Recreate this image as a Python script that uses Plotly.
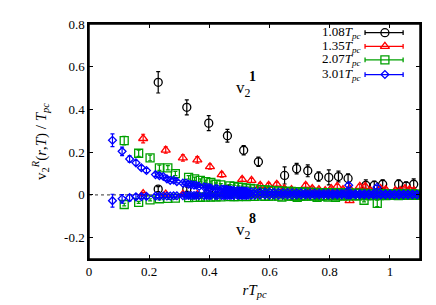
import plotly.graph_objects as go

# ---------------- data ----------------
# 1.08 Tpc (black circles)
x_108 = [0.23, 0.325, 0.398, 0.46, 0.514, 0.563, 0.65, 0.69, 0.727, 0.763, 0.797, 0.829, 0.861, 0.92, 0.948, 0.976, 1.029, 1.054, 1.079]
v1_108 = [0.527, 0.41, 0.336, 0.277, 0.209, 0.155, 0.091, 0.123, 0.113, 0.086, 0.082, 0.086, 0.077, 0.045, 0.045, 0.05, 0.05, 0.041, 0.05]
e1_108 = [0.05, 0.035, 0.035, 0.03, 0.022, 0.022, 0.04, 0.025, 0.028, 0.022, 0.035, 0.025, 0.022, 0.025, 0.02, 0.02, 0.02, 0.02, 0.025]
v8_108 = [0.027, 0.027, 0.012, 0.027, 0.016, 0.008, 0.018, 0.006, 0.004, 0.005, 0.003, 0.004, 0.002, 0.003, 0.002, 0.003, 0.001, 0.002, 0.003]
e8_108 = [0.012, 0.01, 0.008, 0.008, 0.006, 0.006, 0.006, 0.005, 0.005, 0.005, 0.005, 0.005, 0.005, 0.005, 0.005, 0.005, 0.005, 0.005, 0.005]

# 1.35 Tpc (red triangles)
x_135 = [0.18, 0.255, 0.312, 0.36, 0.402, 0.441, 0.509, 0.54, 0.569, 0.597, 0.624, 0.649, 0.673, 0.72, 0.742, 0.764, 0.785, 0.805, 0.825, 0.844, 0.866, 0.9, 0.918, 0.935, 0.969, 0.986, 1.018, 1.034, 1.05, 1.065, 1.08]
v1_135 = [0.264, 0.21, 0.173, 0.164, 0.132, 0.095, 0.073, 0.068, 0.045, 0.045, 0.05, 0.03, 0.025, 0.045, 0.03, 0.025, 0.02, 0.03, 0.04, 0.025, 0.03, 0.04, 0.04, 0.02, 0.03, 0.025, 0.02, 0.02, 0.03, 0.025, 0.02]
e1_135 = [0.02, 0.015, 0.015, 0.015, 0.012, 0.012, 0.01, 0.01, 0.01, 0.01, 0.01, 0.008, 0.008, 0.01, 0.008, 0.008, 0.008, 0.008, 0.01, 0.008, 0.008, 0.01, 0.01, 0.008, 0.008, 0.008, 0.008, 0.008, 0.008, 0.008, 0.008]
v8_135 = [0.006, 0.004, 0.003, 0.002, 0.002, 0.001, 0.001, 0.001, 0.0, 0.001, 0.0, 0.0, 0.001, 0.0, 0.0, 0.001, 0.0, 0.0, 0.0, 0.0, -0.027, 0.0, 0.0, 0.0, 0.0, 0.0, 0.0, 0.0, 0.0, 0.0, 0.0]
e8_135 = [0.006, 0.005, 0.005, 0.005, 0.005, 0.005, 0.005, 0.005, 0.005, 0.005, 0.005, 0.005, 0.005, 0.005, 0.005, 0.005, 0.005, 0.005, 0.005, 0.005, 0.008, 0.005, 0.005, 0.005, 0.005, 0.005, 0.005, 0.005, 0.005, 0.005, 0.005]

# 2.07 Tpc (green squares)
x_207 = [0.117, 0.165, 0.203, 0.234, 0.262, 0.287, 0.331, 0.351, 0.37, 0.388, 0.405, 0.422, 0.438,
         0.468, 0.482, 0.496, 0.51, 0.523, 0.536, 0.549, 0.573, 0.585, 0.597, 0.608, 0.63,
         0.641, 0.662, 0.672, 0.682, 0.692, 0.702, 0.712, 0.721, 0.74, 0.749, 0.758, 0.767, 0.776, 0.785, 0.794,
         0.811, 0.819, 0.827, 0.836, 0.844, 0.852, 0.86, 0.876, 0.883, 0.891, 0.899, 0.914, 0.921, 0.929, 0.936, 0.943,
         0.958, 0.965, 0.972, 0.979, 0.986, 0.993, 1.0, 1.014, 1.021, 1.028, 1.034, 1.041, 1.048, 1.061, 1.067, 1.074, 1.08, 1.087, 1.093]
v1_207 = [0.254, 0.195, 0.173, 0.127, 0.127, 0.1, 0.082, 0.075, 0.068, 0.062, 0.058, 0.05, 0.047,
          0.042, 0.04, 0.036, 0.035, 0.032, 0.03, 0.028, 0.025, 0.024, 0.022, 0.02, 0.019,
          0.018, 0.017, 0.016, 0.015, 0.015, 0.014, 0.013, 0.013, 0.012, 0.012, 0.011, 0.011, 0.01, 0.01, 0.01,
          0.009, 0.01, 0.009, 0.008, 0.009, 0.008, 0.008, 0.007, 0.008, 0.007, 0.007, 0.006, 0.007, 0.006, 0.006, 0.006,
          0.005, 0.006, 0.005, 0.005, 0.005, 0.004, 0.005, 0.004, 0.004, 0.004, 0.003, 0.004, 0.003, 0.003, 0.003, 0.003, 0.002, 0.003, 0.002]
e1_207 = [0.02, 0.015, 0.013, 0.012, 0.01, 0.01, 0.008, 0.008, 0.007, 0.007, 0.007, 0.006, 0.006,
          0.006, 0.006, 0.006, 0.006, 0.006, 0.006, 0.006, 0.005, 0.005, 0.005, 0.005, 0.005,
          0.005, 0.005, 0.005, 0.005, 0.005, 0.005, 0.005, 0.005, 0.005, 0.005, 0.005, 0.005, 0.005, 0.005, 0.005,
          0.005, 0.005, 0.005, 0.005, 0.005, 0.005, 0.005, 0.005, 0.005, 0.005, 0.005, 0.005, 0.005, 0.005, 0.005, 0.005,
          0.005, 0.005, 0.005, 0.005, 0.005, 0.005, 0.005, 0.005, 0.005, 0.005, 0.005, 0.005, 0.005, 0.005, 0.005, 0.005, 0.005, 0.005, 0.005]
v8_207 = [-0.045, -0.035, -0.023, -0.018, -0.016, -0.015, -0.013, -0.012, -0.011, -0.01, -0.01, -0.009, -0.009,
          -0.008, -0.008, -0.008, -0.007, -0.008, -0.007, -0.007, -0.006, -0.007, -0.006, -0.006, -0.006,
          -0.01, -0.005, -0.006, -0.005, -0.012, -0.005, -0.006, -0.005, -0.005, -0.004, -0.012, -0.005, -0.004, -0.004, -0.01,
          -0.004, -0.012, -0.004, -0.003, -0.004, -0.003, -0.004, -0.003, -0.003, -0.004, -0.003, -0.025, -0.003, -0.003, -0.002, -0.003,
          -0.04, -0.003, -0.002, -0.002, -0.003, -0.002, -0.002, -0.002, -0.002, -0.003, -0.002, -0.002, -0.002, -0.002, -0.001, -0.002, -0.002, -0.001, -0.002]
e8_207 = [0.006, 0.005, 0.005, 0.005, 0.005, 0.005, 0.005, 0.005, 0.005, 0.005, 0.005, 0.005, 0.005,
          0.005, 0.005, 0.005, 0.005, 0.005, 0.005, 0.005, 0.005, 0.005, 0.005, 0.005, 0.005,
          0.005, 0.005, 0.005, 0.005, 0.005, 0.005, 0.005, 0.005, 0.005, 0.005, 0.005, 0.005, 0.005, 0.005, 0.005,
          0.005, 0.005, 0.005, 0.005, 0.005, 0.005, 0.005, 0.005, 0.005, 0.005, 0.005, 0.008, 0.005, 0.005, 0.005, 0.005,
          0.015, 0.005, 0.005, 0.005, 0.005, 0.005, 0.005, 0.005, 0.005, 0.005, 0.005, 0.005, 0.005, 0.005, 0.005, 0.005, 0.005, 0.005, 0.005]

# 3.01 Tpc (blue diamonds)
x_301 = [0.078, 0.11, 0.135, 0.156, 0.174, 0.191, 0.221, 0.234, 0.247, 0.259,
         0.27, 0.281, 0.292, 0.312, 0.322, 0.331, 0.34, 0.349, 0.357, 0.366,
         0.382, 0.39, 0.398, 0.405, 0.42, 0.427, 0.441, 0.448, 0.455, 0.461,
         0.468, 0.474, 0.481, 0.493, 0.5, 0.506, 0.512, 0.518, 0.523, 0.529,
         0.54, 0.552, 0.568, 0.585, 0.6, 0.615, 0.63, 0.645, 0.66, 0.675,
         0.69, 0.705, 0.72, 0.735, 0.75, 0.765, 0.78, 0.795, 0.81, 0.825,
         0.84, 0.855, 0.863, 0.87, 0.885, 0.9, 0.915, 0.93, 0.945, 0.957,
         0.97, 0.985, 1.0, 1.015, 1.03, 1.045, 1.06, 1.075, 1.09]
v1_301 = [0.256, 0.204, 0.168, 0.15, 0.127, 0.114, 0.095, 0.09, 0.086, 0.075,
          0.068, 0.07, 0.062, 0.055, 0.056, 0.05, 0.048, 0.046, 0.045, 0.04,
          0.038, 0.036, 0.034, 0.032, 0.03, 0.029, 0.027, 0.026, 0.025, 0.024,
          0.023, 0.022, 0.021, 0.02, 0.019, 0.019, 0.018, 0.017, 0.017, 0.016,
          0.015, 0.015, 0.014, 0.013, 0.013, 0.012, 0.012, 0.011, 0.011, 0.01,
          0.01, 0.01, 0.009, 0.009, 0.009, 0.008, 0.008, 0.008, 0.007, 0.007,
          0.007, 0.012, 0.045, 0.007, 0.006, 0.006, 0.006, 0.005, 0.006, 0.036,
          0.005, 0.005, 0.005, 0.004, 0.005, 0.004, 0.004, 0.004, 0.003]
e1_301 = [0.03, 0.02, 0.015, 0.012, 0.01, 0.01, 0.008, 0.008, 0.007, 0.007,
          0.006, 0.006, 0.006, 0.005, 0.005, 0.005, 0.005, 0.005, 0.005, 0.005,
          0.004, 0.004, 0.004, 0.004, 0.004, 0.004, 0.004, 0.004, 0.004, 0.004,
          0.004, 0.004, 0.004, 0.004, 0.004, 0.004, 0.004, 0.004, 0.004, 0.004,
          0.004, 0.004, 0.004, 0.004, 0.004, 0.004, 0.004, 0.004, 0.004, 0.004,
          0.004, 0.004, 0.004, 0.004, 0.004, 0.004, 0.004, 0.004, 0.004, 0.004,
          0.004, 0.006, 0.01, 0.004, 0.004, 0.004, 0.004, 0.004, 0.004, 0.008,
          0.004, 0.004, 0.004, 0.004, 0.004, 0.004, 0.004, 0.004, 0.004]
v8_301 = [-0.027, -0.018, -0.013, -0.009, -0.008, -0.007, -0.006, -0.006, -0.005, -0.005,
          -0.005, -0.004, -0.004, -0.004, -0.003, -0.003, -0.003, -0.003, -0.003, -0.003,
          -0.003, -0.002, -0.002, -0.002, -0.002, -0.002, -0.002, -0.002, -0.001, -0.002,
          -0.001, -0.001, -0.002, -0.001, -0.001, -0.001, -0.001, -0.001, -0.001, -0.001,
          -0.001, -0.001, -0.001, 0.0, -0.001, 0.0, -0.001, 0.0, 0.0, -0.001,
          0.0, 0.0, 0.0, -0.001, 0.0, 0.0, 0.0, 0.0, 0.0, 0.0,
          0.0, 0.0, 0.0, 0.0, 0.0, 0.0, 0.0, 0.0, 0.0, 0.0,
          0.0, 0.0, 0.0, 0.0, 0.0, 0.0, 0.0, 0.0, 0.0]

labels = ["1.08", "1.35", "2.07", "3.01"]
colors = ["#000000", "#ff0000", "#00a000", "#0000ff"]
symbols = ["circle-open", "triangle-up-open", "square-open", "diamond-open"]
sizes = [8, 8, 8, 6]

series = [
    (x_108, v1_108, e1_108, v8_108, e8_108),
    (x_135, v1_135, e1_135, v8_135, e8_135),
    (x_207, v1_207, e1_207, v8_207, e8_207),
    (x_301, v1_301, e1_301, v8_301, e1_301),
]

x_ticks = [0, 0.2, 0.4, 0.6, 0.8, 1.0]
x_ticktext = ["0", "0.2", "0.4", "0.6", "0.8", "1"]
y_ticks = [-0.2, 0, 0.2, 0.4, 0.6, 0.8]
y_ticktext = ["-0.2", "0", "0.2", "0.4", "0.6", "0.8"]

FONT = "Liberation Serif"

fig = go.Figure()

# zero reference line
fig.add_hline(y=0, line=dict(color="black", width=0.8, dash="3px,3px"), layer="below")

for (xs, v1, e1, v8, e8), lab, col, sym, sz in zip(series, labels, colors, symbols, sizes):
    xx = list(xs) + list(xs)
    yy = list(v1) + list(v8)
    ee = list(e1) + list(e8)
    fig.add_trace(go.Scatter(
        x=xx, y=yy, mode="markers", name=lab + "T<sub>pc</sub>", showlegend=False,
        marker=dict(symbol=sym, size=sz, color=col, line=dict(width=1.3, color=col)),
        error_y=dict(type="data", array=ee, visible=True, color=col, thickness=1.2, width=2),
    ))

# custom legend (text left, sample on the right, like the original)
leg_rows = [0.963, 0.905, 0.847, 0.785]
x_line0, x_line1, x_mark = 0.834, 0.949, 0.894
for lab, col, sym, sz, yr in zip(labels, colors, symbols, sizes, leg_rows):
    fig.add_annotation(xref="paper", yref="paper", x=x_line0 - 0.006, y=yr, xanchor="right", yanchor="middle",
                       text=lab + "<i>T<sub>pc</sub></i>", showarrow=False,
                       font=dict(family=FONT, size=13, color="black"))
    fig.add_shape(type="line", xref="paper", yref="paper", x0=x_line0, x1=x_line1, y0=yr, y1=yr,
                  line=dict(color=col, width=1.3))
    for xc in (x_line0, x_line1):
        fig.add_shape(type="line", xref="paper", yref="paper", x0=xc, x1=xc, y0=yr - 0.01, y1=yr + 0.01,
                      line=dict(color=col, width=1.3))
    fig.add_trace(go.Scatter(x=[x_mark], y=[yr], xaxis="x2", yaxis="y2", mode="markers", showlegend=False,
                             hoverinfo="skip",
                             marker=dict(symbol=sym.replace("-open", ""), size=sz, color="white",
                                         line=dict(width=1.3, color=col))))

# plot frame
fig.add_shape(type="rect", xref="paper", yref="paper", x0=0, x1=1, y0=0, y1=1,
              line=dict(color="black", width=1.5), layer="above")

# v2^1 and v2^8 labels
fig.add_annotation(x=0.515, y=0.495, text="v<sub>2</sub>", showarrow=False,
                   font=dict(family=FONT, size=17, color="black"))
fig.add_annotation(x=0.543, y=0.555, text="<b>1</b>", showarrow=False,
                   font=dict(family=FONT, size=14, color="black"))
fig.add_annotation(x=0.515, y=-0.17, text="v<sub>2</sub>", showarrow=False,
                   font=dict(family=FONT, size=17, color="black"))
fig.add_annotation(x=0.543, y=-0.11, text="<b>8</b>", showarrow=False,
                   font=dict(family=FONT, size=14, color="black"))

axis_common = dict(showline=True, linecolor="black", linewidth=1.5, mirror="ticks", ticks="inside",
                   ticklen=4, tickcolor="black", tickwidth=1, showgrid=False, zeroline=False,
                   tickfont=dict(family=FONT, size=13, color="black"))

# the page body adds an 8 px offset, so the figure is 428x297 with margins adjusted
fig.update_layout(
    width=428, height=297,
    margin=dict(l=81, r=16, t=9, b=38),
    paper_bgcolor="white", plot_bgcolor="white",
    font=dict(family=FONT, size=13, color="black"),
    xaxis=dict(range=[0, 1.1], tickvals=x_ticks, ticktext=x_ticktext,
               title=dict(text="<i>rT<sub>pc</sub></i>", font=dict(family=FONT, size=15), standoff=6),
               **axis_common),
    yaxis=dict(range=[-0.3, 0.8], tickvals=y_ticks, ticktext=y_ticktext,
               title=dict(text="v<sub>2</sub><sup><i>R</i></sup>(<i>r</i>,<i>T</i>) / <i>T<sub>pc</sub></i>",
                          font=dict(family=FONT, size=15), standoff=14),
               **axis_common),
    xaxis2=dict(range=[0, 1], overlaying="x", visible=False, fixedrange=True),
    yaxis2=dict(range=[0, 1], overlaying="y", visible=False, fixedrange=True),
    showlegend=False,
)

fig.write_html("out.html", config={"displayModeBar": False})
